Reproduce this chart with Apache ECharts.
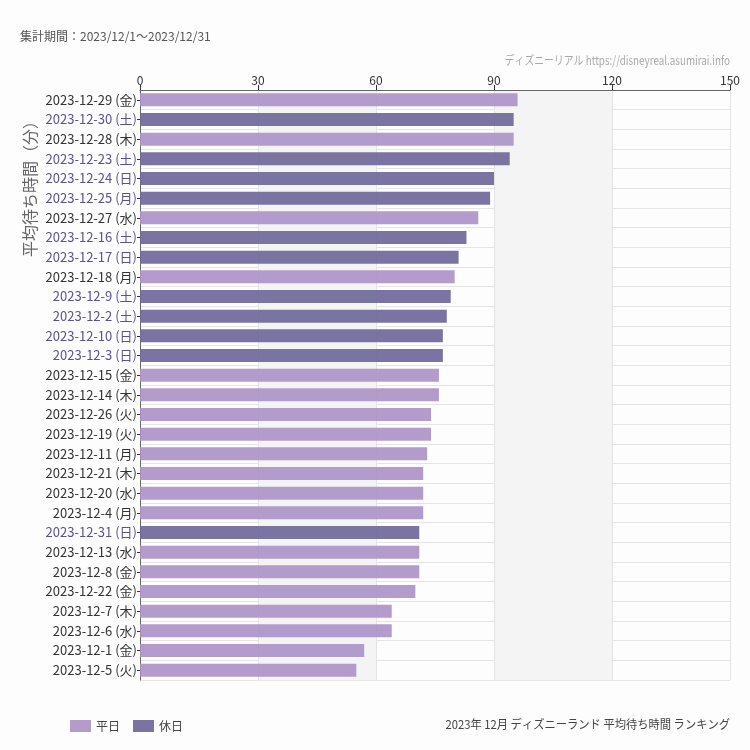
<!DOCTYPE html>
<html><head><meta charset="utf-8">
<script src="https://cdn.jsdelivr.net/npm/echarts@6/dist/echarts.min.js"></script>
<style>html,body{margin:0;padding:0;background:#fcfdfc}#c{width:750px;height:750px}</style>
</head><body><div id="c"></div>
<script>
const dates = ['2023-12-29','2023-12-30','2023-12-28','2023-12-23','2023-12-24','2023-12-25','2023-12-27','2023-12-16','2023-12-17','2023-12-18','2023-12-9','2023-12-2','2023-12-10','2023-12-3','2023-12-15','2023-12-14','2023-12-26','2023-12-19','2023-12-11','2023-12-21','2023-12-20','2023-12-4','2023-12-31','2023-12-13','2023-12-8','2023-12-22','2023-12-7','2023-12-6','2023-12-1','2023-12-5'];
const weekdays = ['金','土','木','土','日','月','水','土','日','月','土','土','日','日','金','木','火','火','月','木','水','月','日','水','金','金','木','水','金','火'];
const dayTypes = ['平日','休日','平日','休日','休日','休日','平日','休日','休日','平日','休日','休日','休日','休日','平日','平日','平日','平日','平日','平日','平日','平日','休日','平日','平日','平日','平日','平日','平日','平日'];
const waitMinutes = [96,95,95,94,90,89,86,83,81,80,79,78,77,77,76,76,74,74,73,72,72,72,71,71,71,70,64,64,57,55];
const seriesNames = ['平日','休日'];
const xTicks = [0,30,60,90,120,150];

const categories = dates.map((d,i)=> d + ' (' + weekdays[i] + ')');
const colors = {'平日':'rgba(172,148,200,0.92)','休日':'rgba(112,104,154,0.92)'};
const chart = echarts.init(document.getElementById('c'));
chart.setOption({
  backgroundColor:'#fcfdfc',
  animation:false,
  textStyle:{fontFamily:'"Noto Sans CJK JP","Noto Sans",sans-serif'},
  grid:{left:140,right:20,top:90,bottom:70},
  legend:{left:65,top:715,itemWidth:21,itemHeight:12,itemGap:13,icon:'rect',
    textStyle:{fontSize:12,color:'#444'},data:seriesNames},
  xAxis:{type:'value',position:'top',min:xTicks[0],max:xTicks[xTicks.length-1],interval:30,
    axisLine:{show:true,lineStyle:{color:'#666'}},
    axisTick:{show:true,length:5,lineStyle:{color:'#333'}},
    axisLabel:{color:'#333',fontSize:12,margin:4},
    splitLine:{show:true,lineStyle:{color:'#e4e4e4'}},
    splitArea:{show:true,areaStyle:{color:['rgba(255,255,255,0)','#f3f4f3']}}},
  yAxis:{type:'category',inverse:true,data:categories,
    axisLine:{show:true,lineStyle:{color:'#666'}},
    axisTick:{show:true,alignWithLabel:true,length:3,lineStyle:{color:'#333'}},
    splitLine:{show:true,lineStyle:{color:'#e4e4e4'}},
    axisLabel:{fontSize:13,margin:3,interval:0,
      formatter:(v,i)=> (dayTypes[i]==='休日'?'{h|':'{w|') + v + '}',
      rich:{h:{color:'#5a5190',fontSize:13},w:{color:'#333',fontSize:13}}}},
  series: seriesNames.map(name=>({
    name:name,type:'bar',barWidth:13,barGap:'-100%',
    itemStyle:{color:colors[name]},
    data: waitMinutes.map((v,i)=> dayTypes[i]===name ? v : null)
  })),
  graphic:[
    {type:'text',left:20,top:30,style:{text:'集計期間：2023/12/1～2023/12/31',fontSize:12,fill:'#555',fontFamily:'"Noto Sans CJK JP",sans-serif'}},
    {type:'text',x:730,y:60,scaleX:0.82,style:{text:'ディズニーリアル https://disneyreal.asumirai.info',fontSize:12,fill:'#aaa',align:'right',verticalAlign:'middle',fontFamily:'"Noto Sans CJK JP",sans-serif'}},
    {type:'text',x:730,y:724,scaleX:0.94,style:{text:'2023年 12月 ディズニーランド 平均待ち時間 ランキング',fontSize:12,fill:'#444',align:'right',verticalAlign:'middle',fontFamily:'"Noto Sans CJK JP",sans-serif'}},
    {type:'text',x:30,y:185,rotation:Math.PI/2,style:{text:'平均待ち時間（分）',fontSize:16,fill:'#666',align:'center',verticalAlign:'middle',fontFamily:'"Noto Sans CJK JP",sans-serif'}}
  ]
});
</script></body></html>
